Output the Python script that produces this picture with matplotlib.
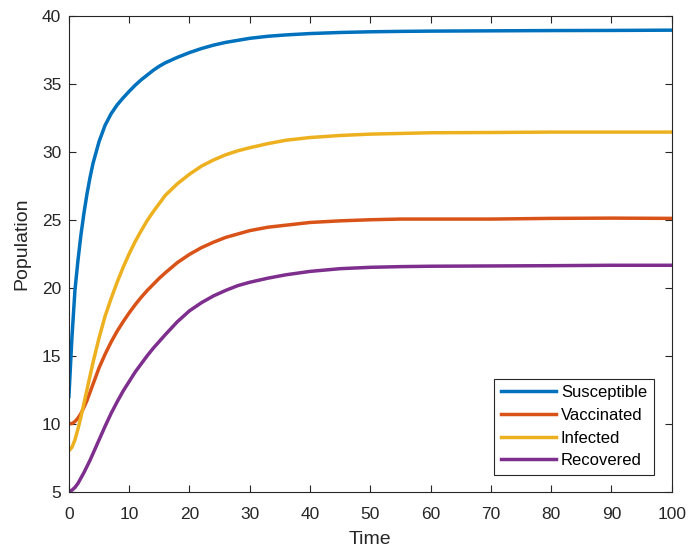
import numpy as np
import matplotlib
matplotlib.use('Agg')
import matplotlib.pyplot as plt

# values
time = [0, 0.5, 1, 1.5, 2, 2.5, 3, 3.5, 4, 5, 6, 7, 8, 9, 10, 11, 12, 13, 14, 15, 16,
        18, 20, 22, 24, 26, 28, 30, 33, 36, 40, 45, 50, 55, 60, 70, 80, 90, 100]

susceptible = [12.0, 16.3, 19.8, 22.0, 23.9, 25.5, 26.9, 28.1, 29.15, 30.75, 31.95,
               32.8, 33.45, 33.97, 34.45, 34.9, 35.3, 35.65, 36.0, 36.3, 36.55,
               36.95, 37.3, 37.6, 37.85, 38.05, 38.2, 38.35, 38.5, 38.6, 38.7,
               38.78, 38.83, 38.86, 38.88, 38.9, 38.92, 38.93, 38.95]
vaccinated = [10.0, 10.0, 10.15, 10.4, 10.75, 11.2, 11.7, 12.3, 12.9, 14.1, 15.1,
              16.0, 16.8, 17.5, 18.15, 18.75, 19.3, 19.8, 20.25, 20.7, 21.1,
              21.85, 22.45, 22.95, 23.35, 23.7, 23.95, 24.2, 24.45, 24.6, 24.8,
              24.92, 25.0, 25.05, 25.05, 25.05, 25.1, 25.12, 25.1]
infected = [8.0, 8.25, 8.8, 9.6, 10.5, 11.5, 12.5, 13.5, 14.5, 16.3, 17.9,
            19.2, 20.4, 21.5, 22.5, 23.4, 24.2, 24.95, 25.6, 26.2, 26.8,
            27.65, 28.35, 28.95, 29.4, 29.78, 30.07, 30.3, 30.6, 30.85, 31.05,
            31.2, 31.3, 31.35, 31.4, 31.42, 31.45, 31.45, 31.45]
recovered = [5.0, 5.1, 5.3, 5.6, 6.0, 6.4, 6.85, 7.3, 7.8, 8.8, 9.8,
             10.75, 11.6, 12.4, 13.1, 13.8, 14.4, 15.0, 15.55, 16.05, 16.55,
             17.5, 18.3, 18.9, 19.4, 19.8, 20.15, 20.4, 20.7, 20.95, 21.2,
             21.4, 21.5, 21.55, 21.58, 21.6, 21.62, 21.65, 21.65]

series = [
	('Susceptible', susceptible, '#0072BD'),
	('Vaccinated', vaccinated, '#D95319'),
	('Infected', infected, '#EDB120'),
	('Recovered', recovered, '#7E2F8E'),
]

plt.rcParams['font.family'] = ['Liberation Sans', 'DejaVu Sans']
axcolor = '#262626'

fig = plt.figure(figsize=(6.89, 5.48), dpi=100)
ax = fig.add_axes([0.100, 0.103, 0.875, 0.868])

for name, vals, color in series:
	ax.plot(time, vals, color=color, lw=2.5, label=name)

ax.set_xlim(0, 100)
ax.set_ylim(5, 40)
ax.set_xticks(np.arange(0, 101, 10))
ax.set_yticks(np.arange(5, 41, 5))
ax.tick_params(direction='in', length=5, width=0.8, top=True, right=True,
               labelsize=12.5, colors=axcolor)
ax.tick_params(axis='x', pad=11)
ax.tick_params(axis='y', pad=5.5)
for sp in ax.spines.values():
	sp.set_color(axcolor)
	sp.set_linewidth(0.8)

ax.set_xlabel('Time', fontsize=14, color=axcolor)
ax.set_ylabel('Population', fontsize=14, color=axcolor)
ax.xaxis.set_label_coords(0.5, -0.082)
ax.yaxis.set_label_coords(-0.064, 0.522)

leg = ax.legend(loc='lower right', bbox_to_anchor=(0.970, 0.035), borderaxespad=0,
                fontsize=12, fancybox=False, framealpha=1, edgecolor=axcolor,
                handlelength=3.3, handletextpad=0.3, labelspacing=0.46,
                borderpad=0.4)
leg.get_frame().set_linewidth(0.8)

fig.savefig('out.png', dpi=100)
